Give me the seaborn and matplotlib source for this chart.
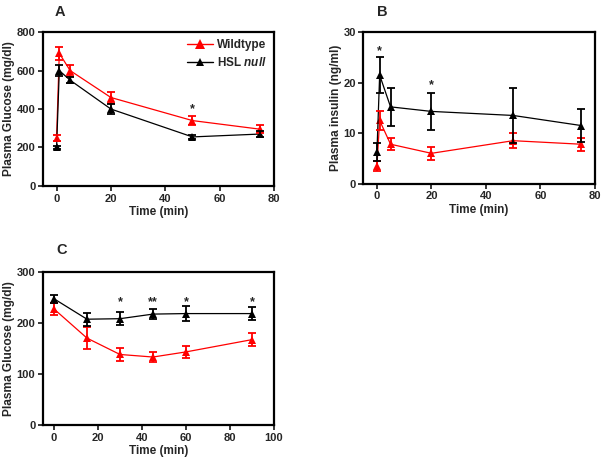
import matplotlib
matplotlib.use("Agg")
import matplotlib.pyplot as plt
import seaborn as sns
import pandas as pd
import numpy as np

# ---------------- data ----------------
time_a = [0, 1, 5, 20, 50, 75]
wt_glucose_a = [248, 690, 600, 460, 340, 295]
wt_glucose_a_err = [15, 35, 30, 30, 25, 20]
ko_glucose_a = [200, 600, 550, 400, 255, 270]
ko_glucose_a_err = [8, 30, 15, 25, 10, 15]
stars_a_x = [50]
stars_a_label = ["*"]

time_b = [0, 1, 5, 20, 50, 75]
wt_insulin_b = [3.5, 12.5, 7.8, 6.0, 8.5, 7.8]
wt_insulin_b_err = [1.0, 1.8, 1.2, 1.3, 1.5, 1.3]
ko_insulin_b = [6.2, 21.5, 15.2, 14.3, 13.5, 11.5]
ko_insulin_b_err = [1.8, 3.5, 3.7, 3.7, 5.5, 3.2]
stars_b_x = [1, 20]
stars_b_label = ["*", "*"]

time_c = [0, 15, 30, 45, 60, 90]
wt_glucose_c = [227, 170, 138, 133, 143, 167]
wt_glucose_c_err = [12, 22, 12, 10, 12, 13]
ko_glucose_c = [247, 207, 208, 217, 218, 218]
ko_glucose_c_err = [8, 13, 13, 10, 15, 12]
stars_c_x = [30, 45, 60, 90]
stars_c_label = ["*", "**", "*", "*"]

groups = ["Wildtype", "HSL null"]

# ---------------- style ----------------
sns.set_theme(style="ticks")
plt.rcParams["font.family"] = ["Liberation Sans", "DejaVu Sans"]
plt.rcParams["font.weight"] = "bold"
plt.rcParams["mathtext.fontset"] = "custom"
plt.rcParams["mathtext.it"] = "Liberation Sans:italic:bold"
plt.rcParams["mathtext.rm"] = "Liberation Sans:bold"

RED = "#ff0000"
BLACK = "#000000"
palette = {"Wildtype": RED, "HSL null": BLACK}
MS = {"Wildtype": 6.3, "HSL null": 5.2}

fig = plt.figure(figsize=(6.03, 4.66), dpi=100)
axA = fig.add_axes([0.0713, 0.601, 0.383, 0.330])
axB = fig.add_axes([0.6025, 0.606, 0.384, 0.325])
axC = fig.add_axes([0.0713, 0.088, 0.383, 0.329])


def draw(ax, t, wt, wte, ko, koe, xlim, ylim, xticks, yticks, ylabel,
         stars_x, stars_lab, star_y, legend=False):
    df = pd.DataFrame({
        "time": list(t) + list(t),
        "value": list(wt) + list(ko),
        "group": [groups[0]] * len(t) + [groups[1]] * len(t),
    })
    n_before = len(ax.get_lines())
    sns.lineplot(data=df, x="time", y="value", hue="group", palette=palette,
                 hue_order=groups, marker="^",
                 linewidth=0.9, ax=ax, legend=False, zorder=4)
    new_lines = ax.get_lines()[n_before:]
    for line in new_lines:
        c = matplotlib.colors.to_hex(line.get_color())
        line.set_markeredgewidth(0)
        line.set_markersize(MS["Wildtype"] if c == matplotlib.colors.to_hex(RED) else MS["HSL null"])
    for g, vals, errs, z in [(groups[0], wt, wte, 5), (groups[1], ko, koe, 6)]:
        ax.errorbar(t, vals, yerr=errs, fmt="none", ecolor=palette[g],
                    elinewidth=1.3, capsize=3.0, capthick=1.3, zorder=z)
    for x, lab in zip(stars_x, stars_lab):
        ax.text(x, star_y, lab, ha="center", va="center", fontsize=9,
                fontweight="bold")
    ax.set_xlim(*xlim)
    ax.set_ylim(*ylim)
    ax.set_xticks(xticks)
    ax.set_yticks(yticks)
    ax.set_xlabel("Time (min)", fontsize=8.5, fontweight="bold", labelpad=2)
    ax.set_ylabel(ylabel, fontsize=8.6, fontweight="bold", labelpad=1)
    ax.tick_params(labelsize=8, width=1.3, length=3.5, direction="out", pad=2)
    for lab in ax.get_xticklabels() + ax.get_yticklabels():
        lab.set_fontweight("bold")
    for s in ax.spines.values():
        s.set_linewidth(1.6)
        s.set_color("black")
        s.set_visible(True)
    if legend:
        from matplotlib.lines import Line2D
        handles = [Line2D([], [], color=RED, marker="^", markersize=7, lw=1.0, markeredgewidth=0),
                   Line2D([], [], color=BLACK, marker="^", markersize=6, lw=1.0, markeredgewidth=0)]
        ax.legend(handles, ["Wildtype", "HSL $\\mathit{null}$"], loc="upper right",
                  frameon=False, prop={"size": 8.5, "weight": "bold"},
                  handlelength=2.2, handletextpad=0.3, borderaxespad=0.2,
                  labelspacing=0.4)


draw(axA, time_a, wt_glucose_a, wt_glucose_a_err, ko_glucose_a, ko_glucose_a_err,
     (-5, 80), (0, 800), [0, 20, 40, 60, 80], [0, 200, 400, 600, 800],
     "Plasma Glucose (mg/dl)", stars_a_x, stars_a_label, 400, legend=True)
draw(axB, time_b, wt_insulin_b, wt_insulin_b_err, ko_insulin_b, ko_insulin_b_err,
     (-5, 80), (0, 30), [0, 20, 40, 60, 80], [0, 10, 20, 30],
     "Plasma insulin (ng/ml)", [], [], 0)
for x, lab, y in zip(stars_b_x, stars_b_label, [26.3, 19.5]):
    axB.text(x, y, lab, ha="center", va="center", fontsize=9, fontweight="bold")
draw(axC, time_c, wt_glucose_c, wt_glucose_c_err, ko_glucose_c, ko_glucose_c_err,
     (-5, 100), (0, 300), [0, 20, 40, 60, 80, 100], [0, 100, 200, 300],
     "Plasma Glucose (mg/dl)", stars_c_x, stars_c_label, 240)

fig.text(60 / 603, 1 - 12 / 466, "A", fontsize=10.5, fontweight="bold", ha="center", va="center")
fig.text(382 / 603, 1 - 12 / 466, "B", fontsize=10.5, fontweight="bold", ha="center", va="center")
fig.text(62 / 603, 1 - 250 / 466, "C", fontsize=10.5, fontweight="bold", ha="center", va="center")

fig.savefig("out.png", dpi=100)
